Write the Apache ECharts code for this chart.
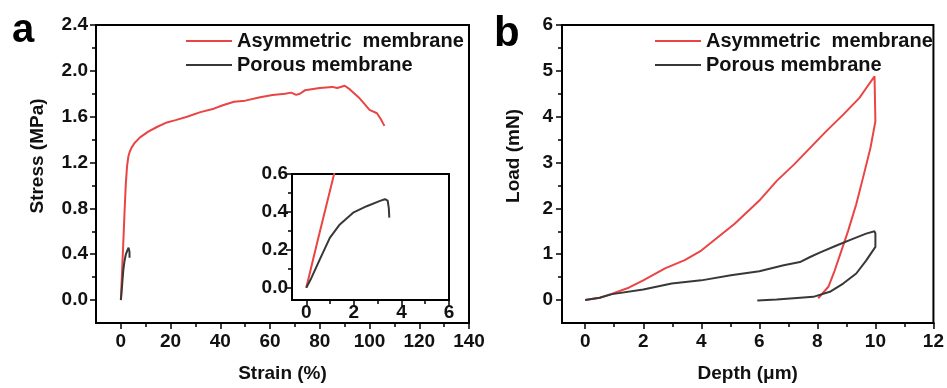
<!DOCTYPE html>
<html>
<head>
<meta charset="utf-8">
<script src="https://cdn.jsdelivr.net/npm/echarts@6/dist/echarts.min.js"></script>
<style>
html, body { margin: 0; background: #fff; }
#main { width: 947px; height: 388px; }
</style>
</head>
<body>
<div id="main"></div>
<script>
// panel a: tensile curves, strain (%) vs stress (MPa)
var asymStrain = [0, 0.5, 1.17, 1.5, 2, 2.5, 3, 3.5, 4.3, 5.5, 7.7, 11, 14.5, 18.5, 22, 26.6, 32, 37.4, 41, 45.5, 50, 56, 61, 66, 68.5, 70.5, 72, 74, 80, 85, 87, 90, 92, 94, 96, 97.6, 100, 103, 104.5, 106];
var asymStress = [0, 0.26, 0.6, 0.78, 1.02, 1.17, 1.25, 1.29, 1.33, 1.37, 1.42, 1.47, 1.51, 1.55, 1.57, 1.60, 1.64, 1.67, 1.70, 1.73, 1.74, 1.77, 1.79, 1.80, 1.81, 1.79, 1.80, 1.83, 1.85, 1.86, 1.85, 1.87, 1.84, 1.80, 1.76, 1.72, 1.66, 1.63, 1.58, 1.52];
var porStrain = [0, 0.21, 0.56, 0.99, 1.41, 1.97, 2.54, 3.1, 3.31, 3.42, 3.47, 3.49];
var porStress = [0, 0.05, 0.147, 0.263, 0.334, 0.396, 0.43, 0.458, 0.467, 0.46, 0.42, 0.37];

// panel b: indentation curves, depth (um) vs load (mN)
var asymDepth = [0, 0.5, 0.93, 1.5, 2, 2.75, 3.43, 4, 4.57, 5.14, 5.7, 6, 6.6, 7.2, 7.75, 8.3, 8.9, 9.45, 9.68, 9.97, 10.0, 10.0, 9.83, 9.57, 9.34, 9.06, 8.83, 8.6, 8.38, 8.03];
var asymLoad = [0, 0.05, 0.14, 0.27, 0.43, 0.69, 0.87, 1.08, 1.37, 1.66, 1.99, 2.17, 2.6, 2.96, 3.32, 3.68, 4.05, 4.41, 4.62, 4.88, 4.9, 3.9, 3.32, 2.66, 2.09, 1.51, 1.08, 0.65, 0.29, 0.04];
var porDepth = [0, 0.5, 0.93, 2, 2.98, 4, 5.02, 6, 6.84, 7.4, 7.75, 8.1, 8.66, 9.2, 9.68, 9.97, 10.0, 10.0, 9.68, 9.34, 8.89, 8.43, 7.86, 7.18, 6.6, 5.93];
var porLoad = [0, 0.05, 0.13, 0.23, 0.36, 0.43, 0.54, 0.63, 0.76, 0.83, 0.94, 1.04, 1.19, 1.33, 1.45, 1.5, 1.45, 1.16, 0.86, 0.58, 0.36, 0.18, 0.07, 0.04, 0.01, -0.01];

// tick values
var aXMajor = [0, 20, 40, 60, 80, 100, 120, 140];
var aXMinor = [10, 30, 50, 70, 90, 110, 130];
var aYMajor = [0, 0.4, 0.8, 1.2, 1.6, 2.0, 2.4];
var aYMinor = [0.2, 0.6, 1.0, 1.4, 1.8, 2.2];
var inXMajor = [0, 2, 4, 6];
var inXMinor = [1, 3, 5];
var inYMajor = [0, 0.2, 0.4, 0.6];
var inYMinor = [0.1, 0.3, 0.5];
var bXMajor = [0, 2, 4, 6, 8, 10, 12];
var bXMinor = [1, 3, 5, 7, 9, 11];
var bYMajor = [0, 1, 2, 3, 4, 5, 6];
var bYMinor = [0.5, 1.5, 2.5, 3.5, 4.5, 5.5];

var nameAsym = 'Asymmetric  membrane';
var namePor = 'Porous membrane';
var RED = '#ea4444';
var DARK = '#383838';
var FONT = "'Liberation Sans', Arial, sans-serif";

function zip(xs, ys) {
    return xs.map(function (x, i) { return [x, ys[i]]; });
}

// main axis: labels on the major values, short ticks on majors and minors
function mainAxis(grid, pos, min, max, majors, minors, fmt, margin, name, gap, pad) {
    return {
        type: 'value', gridIndex: grid, position: pos, min: min, max: max,
        axisLine: { show: true, onZero: false, lineStyle: { color: '#000', width: 2 } },
        axisTick: { show: true, inside: false, length: 4, customValues: majors.concat(minors), lineStyle: { color: '#000', width: 1.5 } },
        axisLabel: { customValues: majors, formatter: fmt, margin: margin, color: '#111', fontSize: 19, fontWeight: 'bold', fontFamily: FONT },
        splitLine: { show: false },
        name: name, nameLocation: 'middle', nameGap: gap,
        nameTextStyle: { color: '#111', fontSize: 19, fontWeight: 'bold', fontFamily: FONT, padding: pad || 0 }
    };
}

// overlay axis on the same edge, only for the longer major ticks
function longTickAxis(grid, pos, min, max, majors) {
    return {
        type: 'value', gridIndex: grid, position: pos, min: min, max: max,
        axisLine: { show: true, onZero: false, lineStyle: { color: '#000', width: 2 } },
        axisTick: { show: true, inside: false, length: 6, customValues: majors, lineStyle: { color: '#000', width: 1.5 } },
        axisLabel: { show: false },
        splitLine: { show: false }
    };
}

function f1(v) { return v.toFixed(1); }
function f0(v) { return String(Math.round(v)); }

var chart = echarts.init(document.getElementById('main'));

var line = function (name, data, color, xi, yi) {
    return {
        name: name, type: 'line', data: data, xAxisIndex: xi, yAxisIndex: yi,
        symbol: 'none', showSymbol: false, clip: true,
        lineStyle: { color: color, width: 2 }, itemStyle: { color: color }
    };
};

var legendStyle = {
    orient: 'vertical', padding: 0, itemWidth: 46, itemHeight: 14, itemGap: 4,
    icon: 'path://M0,6 L46,6 L46,8 L0,8 Z',
    textStyle: { fontSize: 20, fontWeight: 'bold', fontFamily: FONT, color: '#111', lineHeight: 20 },
    data: [nameAsym, namePor], selectedMode: false
};

var option = {
    animation: false,
    backgroundColor: '#fff',
    grid: [
        { left: 96, top: 25, width: 373, height: 302, show: true, borderColor: '#000', borderWidth: 2, backgroundColor: 'transparent' },
        { left: 292, top: 174, width: 157, height: 126, show: true, borderColor: '#000', borderWidth: 2, backgroundColor: '#fff' },
        { left: 562, top: 25, width: 374, height: 302, show: true, borderColor: '#000', borderWidth: 2, backgroundColor: 'transparent' }
    ],
    legend: [
        Object.assign({ left: 186, top: 31 }, legendStyle),
        Object.assign({ left: 655, top: 31 }, legendStyle)
    ],
    xAxis: [
        mainAxis(0, 'bottom', -10, 140, aXMajor, aXMinor, f0, 9, 'Strain (%)', 41),
        longTickAxis(0, 'bottom', -10, 140, aXMajor),
        mainAxis(1, 'bottom', -0.6, 6, inXMajor, inXMinor, f0, 3, '', 0),
        longTickAxis(1, 'bottom', -0.6, 6, inXMajor),
        mainAxis(2, 'bottom', -0.8, 12, bXMajor, bXMinor, f0, 9, 'Depth (μm)', 41),
        longTickAxis(2, 'bottom', -0.8, 12, bXMajor)
    ],
    yAxis: [
        mainAxis(0, 'left', -0.2, 2.4, aYMajor, aYMinor, f1, 8, 'Stress (MPa)', 49, [0, 0, 0, 36]),
        longTickAxis(0, 'left', -0.2, 2.4, aYMajor),
        mainAxis(1, 'left', -0.065, 0.6, inYMajor, inYMinor, f1, 4, '', 0),
        longTickAxis(1, 'left', -0.065, 0.6, inYMajor),
        mainAxis(2, 'left', -0.5, 6, bYMajor, bYMinor, f0, 9, 'Load (mN)', 39, [0, 0, 0, 36]),
        longTickAxis(2, 'left', -0.5, 6, bYMajor)
    ],
    series: [
        line(nameAsym, zip(asymStrain, asymStress), RED, 0, 0),
        line(namePor, zip(porStrain, porStress), DARK, 0, 0),
        line(nameAsym, zip(asymStrain, asymStress), RED, 2, 2),
        line(namePor, zip(porStrain, porStress), DARK, 2, 2),
        line(nameAsym, zip(asymDepth, asymLoad), RED, 4, 4),
        line(namePor, zip(porDepth, porLoad), DARK, 4, 4)
    ],
    graphic: [
        { type: 'text', left: 12, top: 11, style: { text: 'a', fontSize: 40, fontWeight: 'bold', fontFamily: FONT, fill: '#000' } },
        { type: 'text', left: 494, top: 13, style: { text: 'b', fontSize: 42, fontWeight: 'bold', fontFamily: FONT, fill: '#000' } }
    ]
};

chart.setOption(option);
</script>
</body>
</html>
